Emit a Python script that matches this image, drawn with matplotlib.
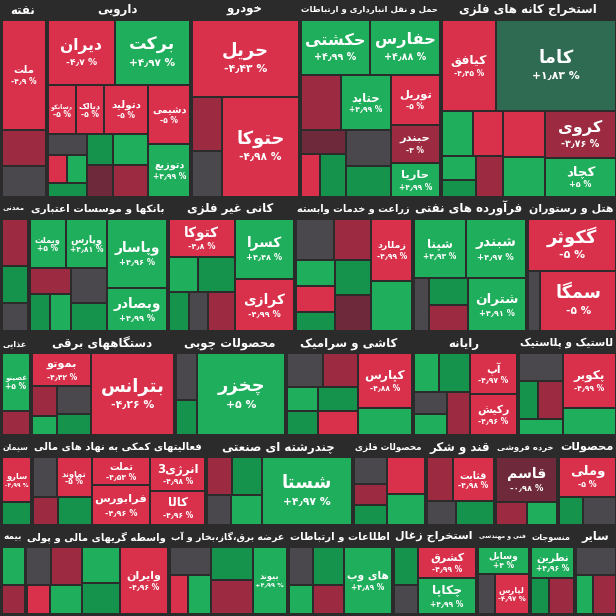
import matplotlib.pyplot as plt
from matplotlib.patches import Rectangle

# ---- data: rows of sectors; each sector = (title, [(symbol, weight, change%)])
row_a = [
    ("نفته", [("ملت", 18, -4.9), ("", 6, -2.0), ("", 5, 0.0)]),
    ("دارویی", [("برکت", 18, 4.97), ("دیران", 16, -4.7), ("دشیمی", 9, -5), ("دتوزیع", 8, 4.99),
                ("دتولید", 8, -5), ("دبالک", 5, -5), ("دسانکو", 5, -5), ("", 4, 4.0), ("", 4, -3.0),
                ("", 3, 2.0), ("", 3, -1.0), ("", 3, 0.0), ("", 2, 4.5), ("", 2, -4.0), ("", 2, 3.0)]),
    ("خودرو", [("حریل", 30, -4.43), ("حتوکا", 28, -4.98), ("", 6, -2.0), ("", 5, 0.0)]),
    ("حمل و نقل انبارداری و ارتباطات", [("حفارس", 14, 4.88), ("حکشتی", 14, 4.99), ("توریل", 9, -5),
                ("حبندر", 7, -3), ("حاریا", 6, 4.99), ("حتاید", 10, 4.99), ("", 8, -2.0), ("", 6, 0.0),
                ("", 5, 3.0), ("", 4, -1.5), ("", 4, 2.0), ("", 3, -4.0)]),
    ("استخراج کانه های فلزی", [("کاما", 40, 1.83), ("کیافق", 18, -4.45), ("کروی", 12, -3.76),
                ("کچاد", 10, 5), ("", 7, -4.5), ("", 6, 4.5), ("", 5, -4.0), ("", 5, 4.0),
                ("", 4, -2.0), ("", 3, 4.0), ("", 2, 3.0)]),
]
row_b = [
    ("معدنی", [("", 5, -3.0), ("", 4, 3.0), ("", 3, 0.0)]),
    ("بانکها و موسسات اعتباری", [("وپاسار", 16, 4.96), ("وبصادر", 10, 4.99), ("وپارس", 8, 4.81),
                ("وبملت", 7, 5), ("", 5, 0.0), ("", 4, 3.0), ("", 4, -2.0), ("", 3, 4.0), ("", 3, 2.0)]),
    ("کانی غیر فلزی", [("کسرا", 14, 4.48), ("کرازی", 12, -4.99), ("کتوکا", 10, -4.8),
                ("", 5, 2.0), ("", 4, 4.0), ("", 4, -2.0), ("", 3, 0.0), ("", 3, 3.0)]),
    ("زراعت و خدمات وابسته", [("زملارد", 10, -4.99), ("", 8, 4.0), ("", 6, -2.0), ("", 6, 0.0),
                ("", 5, 3.0), ("", 5, -1.0), ("", 4, 4.5), ("", 4, -4.0), ("", 3, 2.0)]),
    ("فرآورده های نفتی", [("شبندر", 14, 4.97), ("شپنا", 12, 4.93), ("شتران", 12, 4.91),
                ("", 4, 3.0), ("", 4, -2.0), ("", 3, 0.0)]),
    ("هتل و رستوران", [("گکوثر", 18, -5), ("سمگا", 18, -5), ("", 3, 0.0)]),
]
row_c = [
    ("غذایی", [("غصینو", 7, 5), ("", 3, -2.0)]),
    ("دستگاههای برقی", [("بترانس", 28, -4.26), ("بموتو", 8, -4.42), ("", 4, 0.0), ("", 3, 3.0),
                ("", 3, -2.0), ("", 2, 4.0)]),
    ("محصولات چوبی", [("چخزر", 30, 5), ("", 4, 0.0), ("", 3, 3.0)]),
    ("کاشی و سرامیک", [("کپارس", 12, -4.88), ("", 6, 4.0), ("", 5, -2.0), ("", 5, 0.0),
                ("", 4, 3.0), ("", 4, -4.0), ("", 3, 4.5), ("", 3, 2.0)]),
    ("رایانه", [("آپ", 8, -4.97), ("رکیش", 8, -4.96), ("", 5, 3.0), ("", 4, 4.0), ("", 4, -2.0),
                ("", 3, 0.0), ("", 3, 4.5)]),
    ("لاستیک و پلاستیک", [("پکویر", 12, -4.99), ("", 6, 4.0), ("", 5, 0.0), ("", 4, -2.0),
                ("", 3, 3.0), ("", 3, 4.5)]),
]
row_d = [
    ("سیمان", [("سارو", 6, -4.99), ("", 3, 2.0)]),
    ("فعالیتهای کمکی به نهاد های مالی", [("انرژی3", 8, -4.98), ("کالا", 8, -4.96), ("تملت", 7, -4.53),
                ("فرابورس", 10, -4.96), ("تماوند", 6, -5), ("", 4, 0.0), ("", 4, 3.0), ("", 3, -2.0)]),
    ("چندرشته ای صنعتی", [("شستا", 26, 4.97), ("", 5, 3.0), ("", 4, -2.0), ("", 4, 4.5), ("", 3, 0.0)]),
    ("محصولات فلزی", [("", 6, -4.0), ("", 5, 4.0), ("", 4, 0.0), ("", 3, -2.0), ("", 3, 3.0)]),
    ("قند و شکر", [("قثابت", 8, -4.98), ("", 5, -2.0), ("", 4, 3.0), ("", 3, 0.0)]),
    ("خرده فروشی", [("قاسم", 12, -0.98), ("", 3, 4.0), ("", 3, -3.0)]),
    ("محصولات", [("وملی", 10, -5), ("", 4, 0.0), ("", 3, 3.0)]),
]
row_e = [
    ("بیمه", [("", 4, 4.0), ("", 3, -3.0)]),
    ("واسطه گریهای مالی و پولی", [("وایران", 14, -4.96), ("", 6, 4.0), ("", 5, 3.0), ("", 5, -2.0),
                ("", 4, 0.0), ("", 4, 4.5), ("", 3, -4.0)]),
    ("عرضه برق،گاز،بخار و آب", [("بیوند", 10, 4.99), ("", 6, 3.0), ("", 6, -2.0), ("", 5, 0.0),
                ("", 4, 4.5), ("", 3, -4.0)]),
    ("اطلاعات و ارتباطات", [("های وب", 14, 4.89), ("", 5, 3.0), ("", 4, 0.0), ("", 4, -2.0), ("", 3, 4.0)]),
    ("استخراج زغال", [("کشرق", 8, -4.99), ("چکاپا", 9, 4.99), ("", 4, 3.0), ("", 3, 0.0)]),
    ("فنی و مهندسی", [("وسایل", 6, 4.0), ("لپارس", 6, -4.97), ("", 3, 0.0)]),
    ("منسوجات", [("نطرین", 6, 4.96), ("", 4, -2.0), ("", 3, 3.0)]),
    ("سایر", [("", 5, 0.0), ("", 4, -3.0), ("", 3, 4.0)]),
]
rows = [row_a, row_b, row_c, row_d, row_e]

# ---- persian shaping (presentation forms)
FORMS = {
    'ا': (0xFE8D, 0xFE8E, None, None), 'آ': (0xFE81, 0xFE82, None, None),
    'ب': (0xFE8F, 0xFE90, 0xFE91, 0xFE92), 'پ': (0xFB56, 0xFB57, 0xFB58, 0xFB59),
    'ت': (0xFE95, 0xFE96, 0xFE97, 0xFE98), 'ث': (0xFE99, 0xFE9A, 0xFE9B, 0xFE9C),
    'ج': (0xFE9D, 0xFE9E, 0xFE9F, 0xFEA0), 'چ': (0xFB7A, 0xFB7B, 0xFB7C, 0xFB7D),
    'ح': (0xFEA1, 0xFEA2, 0xFEA3, 0xFEA4), 'خ': (0xFEA5, 0xFEA6, 0xFEA7, 0xFEA8),
    'د': (0xFEA9, 0xFEAA, None, None), 'ذ': (0xFEAB, 0xFEAC, None, None),
    'ر': (0xFEAD, 0xFEAE, None, None), 'ز': (0xFEAF, 0xFEB0, None, None),
    'ژ': (0xFB8A, 0xFB8B, None, None), 'س': (0xFEB1, 0xFEB2, 0xFEB3, 0xFEB4),
    'ش': (0xFEB5, 0xFEB6, 0xFEB7, 0xFEB8), 'ص': (0xFEB9, 0xFEBA, 0xFEBB, 0xFEBC),
    'ض': (0xFEBD, 0xFEBE, 0xFEBF, 0xFEC0), 'ط': (0xFEC1, 0xFEC2, 0xFEC3, 0xFEC4),
    'ظ': (0xFEC5, 0xFEC6, 0xFEC7, 0xFEC8), 'ع': (0xFEC9, 0xFECA, 0xFECB, 0xFECC),
    'غ': (0xFECD, 0xFECE, 0xFECF, 0xFED0), 'ف': (0xFED1, 0xFED2, 0xFED3, 0xFED4),
    'ق': (0xFED5, 0xFED6, 0xFED7, 0xFED8), 'ک': (0xFB8E, 0xFB8F, 0xFB90, 0xFB91),
    'گ': (0xFB92, 0xFB93, 0xFB94, 0xFB95), 'ل': (0xFEDD, 0xFEDE, 0xFEDF, 0xFEE0),
    'م': (0xFEE1, 0xFEE2, 0xFEE3, 0xFEE4), 'ن': (0xFEE5, 0xFEE6, 0xFEE7, 0xFEE8),
    'و': (0xFEED, 0xFEEE, None, None), 'ه': (0xFEE9, 0xFEEA, 0xFEEB, 0xFEEC),
    'ی': (0xFBFC, 0xFBFD, 0xFBFE, 0xFBFF), 'ئ': (0xFE89, 0xFE8A, 0xFE8B, 0xFE8C),
}


def shape(word):
    out = []
    for i, ch in enumerate(word):
        if ch not in FORMS:
            out.append(ch)
            continue
        prev = word[i - 1] if i > 0 else ''
        nxt = word[i + 1] if i + 1 < len(word) else ''
        join_prev = prev in FORMS and FORMS[prev][2] is not None
        join_next = nxt in FORMS and FORMS[ch][2] is not None
        iso, fin, ini, med = FORMS[ch]
        if join_prev and join_next:
            c = med
        elif join_prev:
            c = fin
        elif join_next:
            c = ini
        else:
            c = iso
        out.append(chr(c))
    return out


def rtl(text):
    # shape, then reverse; keep latin/digit runs in order
    chars = shape(text)
    runs, cur = [], ''
    for c in chars:
        if c.isascii() and c.isalnum():
            cur += c
        else:
            if cur:
                runs.append(cur)
                cur = ''
            runs.append(c)
    if cur:
        runs.append(cur)
    return ''.join(reversed(runs))


FA = str.maketrans('0123456789', '۰۱۲۳۴۵۶۷۸۹')


def pct(v):
    s = ('%g' % abs(round(v, 2))).replace('.', '٫').translate(FA)
    return ('+' if v > 0 else '-' if v < 0 else '') + s + ' %'


def color(v):
    if v >= 4: return '#1fae5b'
    if v >= 2: return '#15934c'
    if v > 0: return '#2f6a52'
    if v == 0: return '#4a484c'
    if v > -2: return '#6e2a3a'
    if v > -4: return '#9c2a40'
    return '#d9304b'


# ---- squarify layout
def worst(row, w):
    s = sum(row)
    return max(max(w * w * r / (s * s), s * s / (w * w * r)) for r in row)


def squarify(vals, x, y, w, h):
    rects = []
    total = sum(vals)
    scale = w * h / total
    areas = [v * scale for v in vals]
    i = 0
    while i < len(areas):
        side = min(w, h)
        row = [areas[i]]
        j = i + 1
        while j < len(areas) and worst(row + [areas[j]], side) <= worst(row, side):
            row.append(areas[j])
            j += 1
        s = sum(row)
        if w >= h:
            rw = s / h
            yy = y
            for a in row:
                rects.append((x + w - rw, yy, rw, a / rw))
                yy += a / rw
            w -= rw
        else:
            rh = s / w
            xx = x + w
            for a in row:
                rects.append((xx - a / rh, y, a / rh, rh))
                xx -= a / rh
            y += rh
            h -= rh
        i = j
    return rects


W = H = 616
fig = plt.figure(figsize=(6.16, 6.16), dpi=100, facecolor='#2b2b2b')
ax = fig.add_axes([0, 0, 1, 1])
ax.set_xlim(0, W)
ax.set_ylim(H, 0)
ax.axis('off')
renderer = fig.canvas.get_renderer()


def fit_text(x, y, s, fs, maxw, **kw):
    t = ax.text(x, y, s, fontsize=fs, color='white', fontweight='bold',
                ha='center', va='center', **kw)
    w = t.get_window_extent(renderer).width
    if w > maxw:
        t.set_fontsize(fs * maxw / w)
    return t


GAP = 2
HEAD = 20
row_tot = [sum(sum(s[1] for s in sec[1]) for sec in r) for r in rows]
grand = sum(row_tot)
y0 = 0
for r, rt in zip(rows, row_tot):
    rh = H * rt / grand
    x0 = 0
    for title, stocks in r:
        st = sum(s[1] for s in stocks)
        sw = W * st / rt
        fit_text(x0 + sw / 2, y0 + HEAD / 2, rtl(title), 8.5, sw - 6)
        rects = squarify([s[1] for s in stocks], x0 + GAP, y0 + HEAD, sw - GAP, rh - HEAD - GAP)
        for (rx, ry, rw_, rh_), (name, wt, ch) in zip(rects, stocks):
            ax.add_patch(Rectangle((rx + 1, ry + 1), rw_ - 2, rh_ - 2, color=color(ch), lw=0))
            if name and rw_ > 26 and rh_ > 24:
                fs = max(6, min(13, rw_ / 6, rh_ / 4))
                fit_text(rx + rw_ / 2, ry + rh_ / 2 - fs * 0.6, rtl(name), fs, rw_ - 6)
                fit_text(rx + rw_ / 2, ry + rh_ / 2 + fs * 0.8, pct(ch), max(5.5, fs * 0.6), rw_ - 6)
        x0 += sw
    y0 += rh

fig.savefig('out.png', dpi=100, facecolor=fig.get_facecolor())
